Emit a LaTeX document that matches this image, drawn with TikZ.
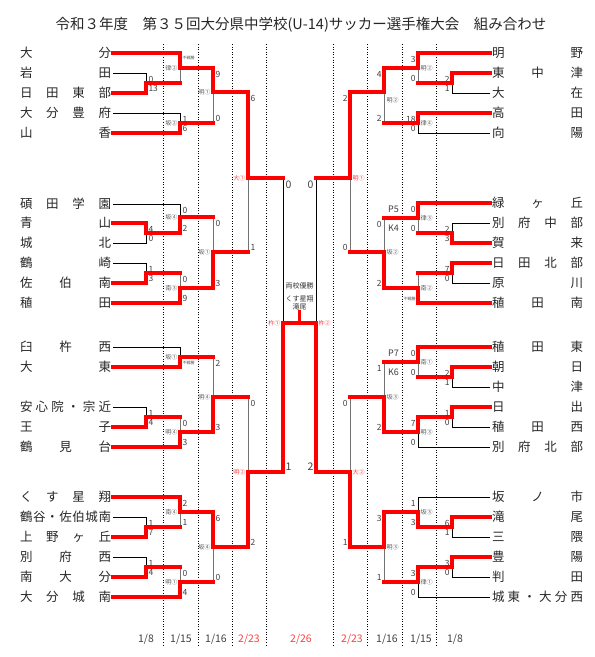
\documentclass[tikz,border=0pt]{standalone}
\usepackage{fontspec}
\setmainfont{Noto Sans CJK JP}
\usetikzlibrary{positioning}

% team names spread over the name column
\newcommand{\spread}[1]{\makebox[91pt][s]{\spaceskip=0pt plus 1fil\relax #1}}

\begin{document}
\begin{tikzpicture}[x=1pt, y=-1pt,
  team/.style={anchor=west, inner sep=0pt, outer sep=2pt, text=black!85, font=\fontsize{12.5}{13}\selectfont},
  win/.style={red, line width=3.1pt, line cap=rect},
  lose/.style={black, line width=0.75pt},
  lost/.style={black!55, line width=0.85pt},
  score/.style={inner sep=1.5pt, text=black!75, font=\fontsize{8.5}{9}\selectfont},
  bigscore/.style={score, font=\fontsize{10.5}{11}\selectfont},
  fusen/.style={inner sep=1.5pt, text=black!70, font=\fontsize{4}{4}\selectfont},
  venue/.style={inner sep=1pt, text=black!65, font=\fontsize{6}{6}\selectfont},
  redvenue/.style={venue, text=red!75},
  pk/.style={inner sep=1pt, text=black!75, font=\fontsize{9}{9}\selectfont},
  guide/.style={black, line width=0.6pt, dash pattern=on 1pt off 1.6pt},
  daylabel/.style={font=\fontsize{10.5}{11}\selectfont}]
\useasboundingbox (0,0) rectangle (595,657);

\node[text=black!85, font=\fontsize{14.5}{15}\selectfont] (title) at (301,25)
  {令和３年度　第３５回大分県中学校(U-14)サッカー選手権大会　組み合わせ};

% round columns and dates
\foreach \x in {163,198,232,266,333,367,402,436}
  \draw[guide] (\x,44) -- (\x,646);
\foreach \x/\dt/\col in {146/{1/8}/black!75, 181/{1/15}/black!75, 216/{1/16}/black!75,
    249/{2/23}/red!75, 301/{2/26}/red!75, 352/{2/23}/red!75,
    387/{1/16}/black!75, 421/{1/15}/black!75, 455/{1/8}/black!75}
  \node[daylabel, text=\col] (day\x) at (\x,639) {\dt};

% left teams
\node[team] (L1) at (18,53) {\spread{大 分}};
\node[team] (L2) at (18,73) {\spread{岩 田}};
\node[team] (L3) at (18,93) {\spread{日 田 東 部}};
\node[team] (L4) at (18,113) {\spread{大 分 豊 府}};
\node[team] (L5) at (18,133) {\spread{山 香}};
\node[team] (L6) at (18,204) {\spread{碩 田 学 園}};
\node[team] (L7) at (18,223) {\spread{青 山}};
\node[team] (L8) at (18,243) {\spread{城 北}};
\node[team] (L9) at (18,263) {\spread{鶴 崎}};
\node[team] (L10) at (18,283) {\spread{佐 伯 南}};
\node[team] (L11) at (18,303) {\spread{稙 田}};
\node[team] (L12) at (18,347) {\spread{臼 杵 西}};
\node[team] (L13) at (18,367) {\spread{大 東}};
\node[team] (L14) at (18,407) {\spread{安 心 院 ・ 宗 近}};
\node[team] (L15) at (18,427) {\spread{王 子}};
\node[team] (L16) at (18,447) {\spread{鶴 見 台}};
\node[team] (L17) at (18,497) {\spread{く す 星 翔}};
\node[team] (L18) at (18,517) {\spread{鶴 谷 ・ 佐 伯 城 南}};
\node[team] (L19) at (18,537) {\spread{上 野 ヶ 丘}};
\node[team] (L20) at (18,557) {\spread{別 府 西}};
\node[team] (L21) at (18,577) {\spread{南 大 分}};
\node[team] (L22) at (18,597) {\spread{大 分 城 南}};

% right teams
\node[team] (R1) at (490,53) {\spread{明 野}};
\node[team] (R2) at (490,73) {\spread{東 中 津}};
\node[team] (R3) at (490,93) {\spread{大 在}};
\node[team] (R4) at (490,113) {\spread{高 田}};
\node[team] (R5) at (490,133) {\spread{向 陽}};
\node[team] (R6) at (490,203) {\spread{緑 ヶ 丘}};
\node[team] (R7) at (490,223) {\spread{別 府 中 部}};
\node[team] (R8) at (490,243) {\spread{賀 来}};
\node[team] (R9) at (490,263) {\spread{日 田 北 部}};
\node[team] (R10) at (490,283) {\spread{原 川}};
\node[team] (R11) at (490,303) {\spread{稙 田 南}};
\node[team] (R12) at (490,347) {\spread{稙 田 東}};
\node[team] (R13) at (490,367) {\spread{朝 日}};
\node[team] (R14) at (490,387) {\spread{中 津}};
\node[team] (R15) at (490,407) {\spread{日 出}};
\node[team] (R16) at (490,427) {\spread{稙 田 西}};
\node[team] (R17) at (490,447) {\spread{別 府 北 部}};
\node[team] (R18) at (490,497) {\spread{坂 ノ 市}};
\node[team] (R19) at (490,517) {\spread{滝 尾}};
\node[team] (R20) at (490,537) {\spread{三 隈}};
\node[team] (R21) at (490,557) {\spread{豊 陽}};
\node[team] (R22) at (490,577) {\spread{判 田}};
\node[team] (R23) at (490,597) {\spread{城 東 ・ 大 分 西}};

% match points, left half
\coordinate (a1) at (146,83);  \coordinate (a2) at (180,68);
\coordinate (a3) at (180,123); \coordinate (a4) at (213,92);
\coordinate (b1) at (146,233); \coordinate (b2) at (180,217);
\coordinate (b3) at (146,273); \coordinate (b4) at (180,288);
\coordinate (b5) at (213,252);
\coordinate (c1) at (180,357); \coordinate (c2) at (146,417);
\coordinate (c3) at (180,432); \coordinate (c4) at (213,397);
\coordinate (d1) at (146,527); \coordinate (d2) at (180,512);
\coordinate (d3) at (146,567); \coordinate (d4) at (180,582);
\coordinate (d5) at (213,547);
\coordinate (p1) at (248,178); \coordinate (p2) at (248,472);
\coordinate (s1) at (283,323);
% match points, right half
\coordinate (e1) at (452,83);  \coordinate (e2) at (418,68);
\coordinate (e3) at (418,123); \coordinate (e4) at (384,92);
\coordinate (f1) at (452,233); \coordinate (f2) at (418,218);
\coordinate (f3) at (452,273); \coordinate (f4) at (418,288);
\coordinate (f5) at (384,252);
\coordinate (g1) at (452,377); \coordinate (g2) at (418,362);
\coordinate (g3) at (452,417); \coordinate (g4) at (418,432);
\coordinate (g5) at (384,397);
\coordinate (h1) at (452,527); \coordinate (h2) at (418,512);
\coordinate (h3) at (452,567); \coordinate (h4) at (418,582);
\coordinate (h5) at (384,547);
\coordinate (q1) at (350,178); \coordinate (q2) at (350,472);
\coordinate (s2) at (316,323);
\coordinate (fin) at (299.5,323);

% beaten in their first game
\foreach \s/\m in {L2/a1, L4/a3, L6/b2, L8/b1, L9/b3, L12/c1, L14/c2, L18/d1, L20/d3,
    R3/e1, R5/e3, R7/f1, R10/f3, R14/g1, R16/g3, R17/g4, R18/h2, R20/h1, R22/h3, R23/h4}
  \draw[lose] (\s) -| (\m);
% beaten later on
\foreach \s/\m in {a1/a2, a3/a4, b2/b5, b3/b4, c1/c4, c2/c3, d1/d2, d3/d4, d4/d5, b5/p1, c4/p2,
    e1/e2, e3/e4, f1/f2, f3/f4, f2/f5, g1/g2, g2/g5, h4/h5, f5/q1, g5/q2}
  \draw[lost] (\s -| \m) -- (\m);
\draw[lose] (p1 -| s1) -- (s1);
\draw[lose] (q1 -| s2) -- (s2);
\foreach \s/\m in {a1/a2, a3/a4, b2/b5, b3/b4, c1/c4, c2/c3, d1/d2, d3/d4, d4/d5, b5/p1, c4/p2, p1/s1,
    e1/e2, e3/e4, f1/f2, f3/f4, f2/f5, g1/g2, g2/g5, h4/h5, f5/q1, g5/q2, q1/s2}
  \draw[win] (\s) -- (\s -| \m);
% winners
\foreach \s/\m in {L3/a1, L1/a2, L5/a3, a2/a4, L7/b1, b1/b2, L10/b3, L11/b4, b4/b5,
    L13/c1, L15/c2, L16/c3, c3/c4, L19/d1, L17/d2, L21/d3, L22/d4, d2/d5, a4/p1, d5/p2, p2/s1,
    R2/e1, R1/e2, R4/e3, e2/e4, R8/f1, R6/f2, R9/f3, R11/f4, f4/f5,
    R13/g1, R12/g2, R15/g3, g3/g4, g4/g5, R19/h1, h1/h2, R21/h3, h3/h4, h2/h5, e4/q1, h5/q2, q2/s2}
  \draw[win] (\s) -| (\m);

% both champions
\node[inner sep=1pt, text=black!80, font=\fontsize{7}{7}\selectfont] (both) at (299.5,286) {両校優勝};
\node[inner sep=1pt, text=black!80, align=center, font=\fontsize{7}{7.4}\selectfont] (champ) at (299.5,303) {くす星翔\\滝尾};
\draw[win] (s1) -- (s2);
\draw[win] (fin) -- (champ);

% scores
\foreach \m/\hi/\lo/\scu/\scl in {a1/L2/L3/0/13, a3/L4/L5/1/6, a4/a2/a3/9/0, b1/L7/L8/4/0,
    b2/L6/b1/0/2, b3/L9/L10/1/3, b4/b3/L11/0/9, b5/b2/b4/0/3, c2/L14/L15/1/4, c3/c2/L16/0/3,
    c4/c1/c3/2/3, d1/L18/L19/1/7, d2/L17/d1/2/1, d3/L20/L21/1/4, d4/d3/L22/0/4, d5/d2/d4/6/0,
    p1/a4/b5/6/1, p2/c4/d5/0/2}
{
  \node[score, anchor=north west, xshift=0.8pt, yshift=-1.5pt] (\m-u) at (\m |- \hi) {\scu};
  \node[score, anchor=south west, xshift=0.8pt] (\m-l) at (\m |- \lo) {\scl};
}
\foreach \m/\hi/\lo/\scu/\scl in {e1/R2/R3/2/1, e2/R1/e1/3/0, e3/R4/R5/18/0, e4/e2/e3/4/2,
    f1/R7/R8/2/3, f2/R6/f1/0/0, f3/R9/R10/7/0, f5/f2/f4/0/2, g1/R13/R14/2/1, g2/R12/g1/0/0,
    g3/R15/R16/1/0, g4/g3/R17/7/0, g5/g2/g4/1/2, h1/R19/R20/6/1, h2/R18/h1/1/3, h3/R21/R22/3/0,
    h4/h3/R23/3/0, h5/h2/h4/3/1, q1/e4/f5/2/0, q2/g5/h5/0/1}
{
  \node[score, anchor=north east, xshift=-0.8pt, yshift=-1.5pt] (\m-u) at (\m |- \hi) {\scu};
  \node[score, anchor=south east, xshift=-0.8pt] (\m-l) at (\m |- \lo) {\scl};
}
\node[bigscore, anchor=north west, xshift=0.8pt, yshift=-1.5pt] (s1-u) at (s1 |- p1) {0};
\node[bigscore, anchor=south west, xshift=0.8pt] (s1-l) at (s1 |- p2) {1};
\node[bigscore, anchor=north east, xshift=-0.8pt, yshift=-1.5pt] (s2-u) at (s2 |- q1) {0};
\node[bigscore, anchor=south east, xshift=-0.8pt] (s2-l) at (s2 |- q2) {2};

% walkovers and penalties
\node[fusen, anchor=north west, xshift=0.8pt, yshift=-1.5pt] (a2-u) at (a2 |- L1) {不戦勝};
\node[fusen, anchor=south west, xshift=0.8pt] (c1-l) at (c1 |- L13) {不戦勝};
\node[fusen, anchor=south east, xshift=-0.8pt] (f4-l) at (f4 |- R11) {不戦勝};
\node[pk, left=9pt of f2-u] (pk-f2u) {P5};
\node[pk, left=9pt of f2-l] (pk-f2l) {K4};
\node[pk, left=9pt of g2-u] (pk-g2u) {P7};
\node[pk, left=9pt of g2-l] (pk-g2l) {K6};

% grounds
\foreach \m/\vn in {a2/律②, a3/坂②, a4/明①, b2/坂④, b4/南③, b5/坂①, c1/坂①, c3/明④,
    c4/明④, d2/南④, d4/明①, d5/坂④}
  \node[venue, anchor=east, xshift=-1.5pt] (v-\m) at (\m) {\vn};
\foreach \m/\vn in {e2/明②, e3/律④, f2/律③, f4/南②, f5/坂②, g2/南①, g4/明③, g5/坂③,
    h2/坂③, h4/律①, h5/明③}
  \node[venue, anchor=west, xshift=1.5pt] (v-\m) at (\m) {\vn};
\node[venue, anchor=west, xshift=1.5pt, yshift=-8pt] (v-e4) at (e4) {明②};
\foreach \m/\vn in {p1/大①, p2/明②, s1/杵①}
  \node[redvenue, anchor=east, xshift=-1.5pt] (v-\m) at (\m) {\vn};
\foreach \m/\vn in {q1/明①, q2/大②, s2/杵②}
  \node[redvenue, anchor=west, xshift=1.5pt] (v-\m) at (\m) {\vn};
\end{tikzpicture}
\end{document}
